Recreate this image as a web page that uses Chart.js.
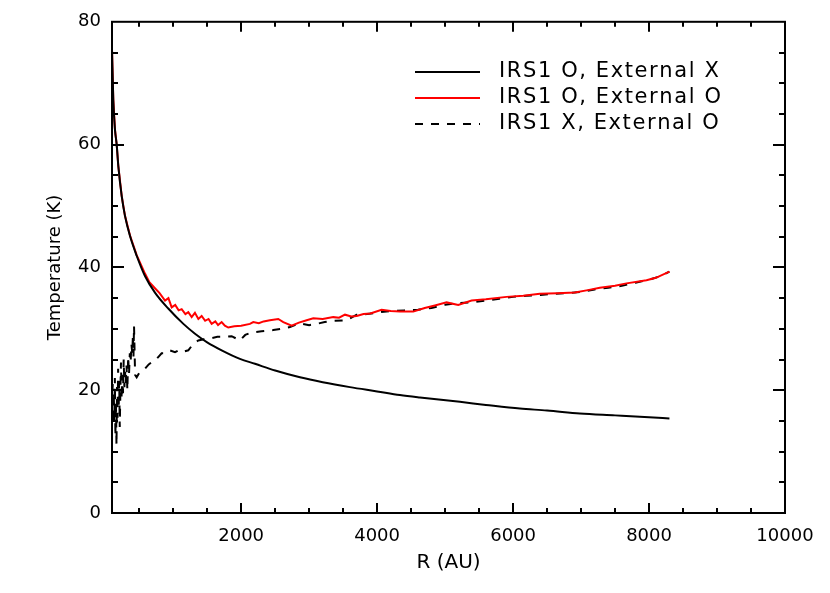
<!DOCTYPE html>
<html>
<head>
<meta charset="utf-8">
<script src="https://cdn.jsdelivr.net/npm/chart.js@4.4.1/dist/chart.umd.min.js"></script>
<style>
  html, body { margin: 0; padding: 0; background: #fff; }
  #wrap { width: 830px; height: 593px; }
</style>
</head>
<body>
<div id="wrap"><canvas id="tempChart" width="830" height="593"></canvas></div>
<script>
// Temperature profile vs radius

const X_TICKS = [2000, 4000, 6000, 8000, 10000];
const Y_TICKS = [0, 20, 40, 60, 80];

const LABELS = ['IRS1 O, External X', 'IRS1 O, External O', 'IRS1 X, External O'];

// IRS1 O, External X (solid black)
const R_SOLID = [100, 119, 144, 169, 193, 243, 291, 365, 463, 585,
  732, 928, 1150, 1321, 1500, 1713, 1982, 2203, 2500, 2865,
  3200, 3600, 4000, 4335, 4629, 5218, 5600, 6100, 6500, 6982,
  7500, 8000, 8300];
const T_SOLID = [75.5, 67.3, 62.4, 60.0, 56.5, 51.6, 48.4, 45.1, 41.9, 38.6,
  35.9, 33.3, 30.8, 29.2, 27.8, 26.5, 25.1, 24.3, 23.2, 22.1,
  21.3, 20.5, 19.8, 19.2, 18.8, 18.1, 17.6, 17.0, 16.7, 16.2,
  15.9, 15.6, 15.4];

// IRS1 O, External O (red)
const R_RED = [100, 119, 144, 169, 193, 243, 291, 365, 463, 585,
  650, 732, 800, 880, 930, 978, 1030, 1080, 1125, 1180,
  1222, 1272, 1320, 1370, 1419, 1470, 1520, 1566, 1620, 1660,
  1713, 1760, 1810, 1900, 2000, 2129, 2178, 2260, 2330, 2423,
  2546, 2620, 2742, 2850, 2963, 3061, 3200, 3355, 3440, 3527,
  3620, 3699, 3800, 3900, 4066, 4200, 4335, 4531, 4700, 4850,
  5022, 5193, 5390, 5600, 5904, 6150, 6394, 6650, 6909, 7100,
  7276, 7500, 7668, 7962, 8100, 8300];
const T_RED = [75.5, 67.3, 62.4, 60.0, 56.5, 51.6, 48.4, 45.2, 42.0, 39.0,
  37.6, 36.6, 35.8, 34.6, 35.0, 33.5, 33.9, 33.0, 33.2, 32.4,
  32.7, 31.9, 32.6, 31.6, 32.1, 31.3, 31.6, 30.8, 31.2, 30.6,
  31.1, 30.5, 30.2, 30.4, 30.5, 30.8, 31.1, 30.9, 31.2, 31.4,
  31.6, 31.1, 30.5, 31.0, 31.4, 31.7, 31.6, 31.9, 31.8, 32.3,
  32.0, 32.1, 32.4, 32.5, 33.1, 32.9, 32.8, 32.8, 33.4, 33.8,
  34.3, 33.9, 34.6, 34.8, 35.2, 35.4, 35.7, 35.8, 35.9, 36.3,
  36.7, 37.0, 37.4, 37.9, 38.3, 39.3];

// IRS1 X, External O (dashed black)
const R_DASH = [102, 110, 118, 126, 134, 142, 150, 158, 166, 174,
  182, 190, 198, 206, 214, 222, 232, 242, 252, 262,
  272, 282, 292, 302, 314, 326, 338, 350, 362, 374,
  386, 398, 408, 416, 424, 440, 463, 500, 540, 585,
  640, 690, 732, 780, 830, 880, 950, 1027, 1100, 1160,
  1222, 1300, 1370, 1450, 1541, 1650, 1762, 1860, 1982, 2060,
  2154, 2300, 2472, 2600, 2718, 2865, 3000, 3110, 3230, 3355,
  3551, 3699, 3850, 4041, 4200, 4400, 4600, 4800, 5000, 5200,
  5400, 5600, 5800, 6000, 6200, 6400, 6600, 6800, 7000, 7200,
  7400, 7600, 7800, 8000, 8150, 8300];
const T_DASH = [17.5, 21.0, 14.5, 19.5, 15.0, 22.0, 12.5, 18.0, 11.0, 20.5,
  15.5, 23.5, 17.0, 21.5, 14.0, 19.0, 24.5, 18.5, 22.5, 19.5,
  25.0, 20.5, 23.0, 21.0, 24.0, 20.0, 25.5, 22.5, 26.0, 24.5,
  27.5, 26.0, 29.0, 25.5, 30.5, 22.5, 22.1, 22.8, 23.2, 23.5,
  24.2, 24.6, 24.8, 25.4, 26.0, 26.0, 26.5, 26.2, 26.6, 26.3,
  26.5, 27.6, 28.1, 28.3, 28.4, 28.7, 28.7, 28.8, 28.1, 29.0,
  29.4, 29.6, 29.8, 30.0, 30.3, 30.9, 30.6, 30.8, 31.1, 31.3,
  31.4, 32.3, 32.4, 32.7, 32.9, 33.0, 33.1, 33.4, 33.9, 34.2,
  34.3, 34.6, 34.9, 35.2, 35.4, 35.5, 35.7, 35.8, 36.0, 36.4,
  36.7, 37.0, 37.5, 38.0, 38.5, 39.3];

const FONT = "'DejaVu Sans', sans-serif";

const pts = (xs, ys) => xs.map((x, i) => ({ x, y: ys[i] }));

// text with extra gap between letters (IDL vector font is loosely set)
function spacedText(ctx, str, x, y, gap) {
  for (const ch of str) {
    ctx.fillText(ch, x, y);
    x += ctx.measureText(ch).width + gap;
  }
}

// box + inward ticks on all four sides, IDL style, plus the legend
const idlFrame = {
  id: 'idlFrame',
  afterDraw(chart) {
    const { ctx } = chart;
    const a = chart.chartArea;
    const xs = chart.scales.x, ys = chart.scales.y;
    ctx.save();
    ctx.strokeStyle = '#000';
    ctx.lineWidth = 2;
    ctx.strokeRect(a.left, a.top, a.right - a.left, a.bottom - a.top);

    ctx.beginPath();
    for (let v = 500; v < 10000; v += 500) {
      const px = Math.round(xs.getPixelForValue(v));
      const len = X_TICKS.includes(v) ? 10 : 5;
      ctx.moveTo(px, a.bottom); ctx.lineTo(px, a.bottom - len);
      ctx.moveTo(px, a.top); ctx.lineTo(px, a.top + len);
    }
    for (let v = 5; v < 80; v += 5) {
      const py = Math.round(ys.getPixelForValue(v));
      const len = Y_TICKS.includes(v) ? 12 : 6;
      ctx.moveTo(a.left, py); ctx.lineTo(a.left + len, py);
      ctx.moveTo(a.right, py); ctx.lineTo(a.right - len, py);
    }
    ctx.stroke();

    // legend
    const lx = 415, lw = 65, rows = [72, 98, 124];
    ctx.font = '21px ' + FONT;
    ctx.textBaseline = 'middle';
    ctx.textAlign = 'left';
    ctx.fillStyle = '#000';
    chart.data.datasets.forEach((ds, i) => {
      ctx.beginPath();
      ctx.strokeStyle = ds.borderColor;
      ctx.lineWidth = ds.borderWidth;
      ctx.setLineDash(ds.borderDash || []);
      ctx.moveTo(lx, rows[i]); ctx.lineTo(lx + lw, rows[i]);
      ctx.stroke();
      ctx.setLineDash([]);
      spacedText(ctx, ds.label, 499, rows[i], 1.6);
    });
    ctx.restore();
  }
};

new Chart(document.getElementById('tempChart'), {
  type: 'line',
  data: {
    datasets: [{
      label: LABELS[0],
      data: pts(R_SOLID, T_SOLID),
      borderColor: '#000000',
      borderWidth: 2,
      cubicInterpolationMode: 'monotone',
      pointRadius: 0,
    }, {
      label: LABELS[1],
      data: pts(R_RED, T_RED),
      borderColor: '#ff0000',
      borderWidth: 2,
      tension: 0,
      pointRadius: 0,
    }, {
      label: LABELS[2],
      data: pts(R_DASH, T_DASH),
      borderColor: '#000000',
      borderWidth: 2,
      borderDash: [8, 8],
      tension: 0,
      pointRadius: 0,
    }],
  },
  options: {
    responsive: false,
    animation: false,
    layout: { padding: { top: 20, right: 45, left: 0, bottom: 0 } },
    plugins: { legend: { display: false }, tooltip: { enabled: false } },
    scales: {
      x: {
        type: 'linear',
        min: 100,
        max: 10000,
        afterBuildTicks: s => { s.ticks = X_TICKS.map(v => ({ value: v })); },
        afterFit: s => { s.height = 80; },
        grid: { display: false, drawTicks: false },
        border: { display: true, color: '#000', width: 2 },
        ticks: { color: '#000', font: { family: FONT, size: 18 }, padding: 13, maxRotation: 0, callback: v => String(v) },
        title: { display: true, text: 'R (AU)', color: '#000', font: { family: FONT, size: 20 }, padding: { top: 4, bottom: 18 } },
      },
      y: {
        min: 0,
        max: 80,
        afterBuildTicks: s => { s.ticks = Y_TICKS.map(v => ({ value: v })); },
        afterFit: s => { s.width = 112; },
        grid: { display: false, drawTicks: false },
        border: { display: true, color: '#000', width: 2 },
        ticks: { color: '#000', font: { family: FONT, size: 18 }, padding: 11, callback: v => String(v) },
        title: { display: true, text: 'Temperature (K)', color: '#000', font: { family: FONT, size: 18 }, padding: { top: 45, bottom: 4 } },
      },
    },
  },
  plugins: [idlFrame],
});
</script>
</body>
</html>
